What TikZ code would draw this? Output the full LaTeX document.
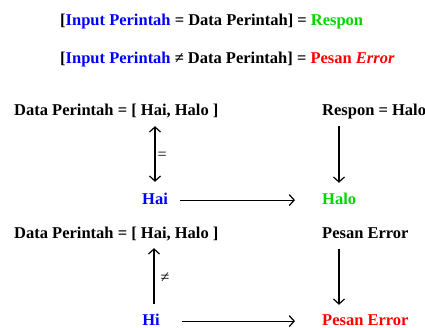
\documentclass[tikz,border=0pt]{standalone}
\usepackage{fontspec}
\setmainfont{Liberation Serif}
\usetikzlibrary{arrows.meta}
\usepackage{xcolor}
\definecolor{inblue}{RGB}{0,0,255}
\definecolor{okgreen}{RGB}{0,215,0}
\definecolor{errred}{RGB}{255,0,0}

\begin{document}
\begin{tikzpicture}[x=1pt,y=1pt,
		txt/.style={font=\fontsize{16.5}{19}\selectfont\bfseries,inner sep=2pt,
			text height=11.5pt,text depth=3.7pt,anchor=base west},
		rel/.style={font=\fontsize{16}{19}\selectfont,inner sep=2pt},
		arr/.style={line width=1.2pt,-{Straight Barb[length=5pt,width=11pt]}},
		darr/.style={line width=1.2pt,{Straight Barb[length=5pt,width=11pt]}-{Straight Barb[length=5pt,width=11pt]}}]
		
		\useasboundingbox (0,0) rectangle (425,327);
		
		% Rules
		\node[txt] (rule1) at (58,301) {[\textcolor{inblue}{Input Perintah} = Data Perintah] = \textcolor{okgreen}{Respon}};
		\node[txt] (rule2) at (58,263) {[\textcolor{inblue}{Input Perintah} ≠ Data Perintah] = \textcolor{errred}{Pesan \textit{Error}}};
		
		% Case 1: input found in data
		\node[txt] (data1) at (12,211) {Data Perintah = [ Hai, Halo ]};
		\node[txt] (resp) at (320,211) {Respon = Halo};
		\node[txt,anchor=base,text=inblue] (hai) at (155,123) {Hai};
		\node[txt,text=okgreen] (halo) at (320,123) {Halo};
		
		\draw[darr,shorten <=8.5pt,shorten >=4.3pt] (hai.north) -- (hai.north |- data1.south)
		node[rel,midway,right] (eq) {=};
		\draw[arr,shorten <=4.3pt,shorten >=7.5pt] ([xshift=19pt]resp.south west) -- ([xshift=19pt]halo.north west);
		\draw[arr,shorten <=10pt,shorten >=25pt] (hai.east) -- (halo.west);
		
		% Case 2: input not found in data
		\node[txt] (data2) at (12,89) {Data Perintah = [ Hai, Halo ]};
		\node[txt] (err) at (320,89) {Pesan Error};
		\node[txt,anchor=base,text=inblue] (hi) at (151,2) {Hi};
		\node[txt,text=errred] (perr) at (320,2) {Pesan Error};
		
		\draw[arr,shorten <=7.5pt,shorten >=4.3pt] ([xshift=3pt]hi.north) -- ([xshift=3pt]hi.north |- data2.south)
		node[rel,midway,right,xshift=4pt] (neq) {≠};
		\draw[arr,shorten <=5.3pt,shorten >=6.5pt] ([xshift=19pt]err.south west) -- ([xshift=19pt]perr.north west);
		\draw[arr,shorten <=20pt,shorten >=25pt] (hi.east) -- (perr.west);
		
	\end{tikzpicture}
\end{document}
